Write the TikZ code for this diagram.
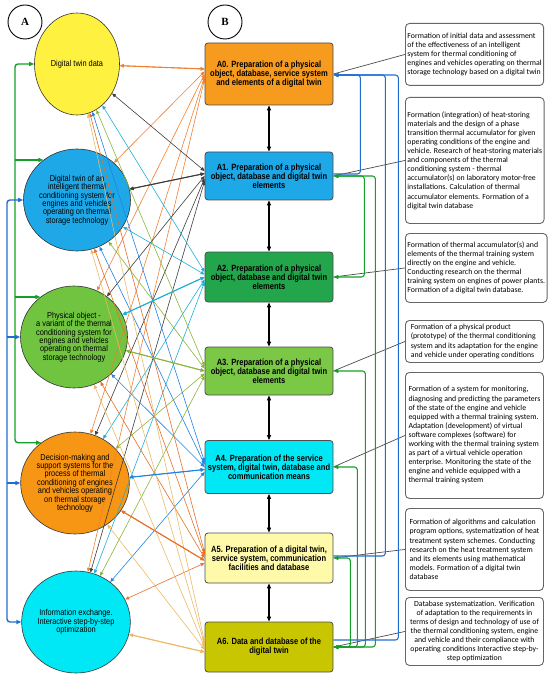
\documentclass[tikz,border=0pt]{standalone}
\usepackage{fontspec}
\setmainfont{Liberation Sans}
\newfontfamily\labfont{Liberation Serif}
\newfontfamily\boxfont[FakeStretch=0.84]{Liberation Sans}
\newfontfamily\ellfont[FakeStretch=0.86]{Liberation Sans}
\newfontfamily\notefont{Carlito}
\usepackage{tikz}
\usetikzlibrary{positioning,arrows.meta,calc,shapes.geometric}

% fills
\definecolor{eYellow}{RGB}{255,241,64}
\definecolor{eBlue}{RGB}{30,168,232}
\definecolor{eGreen}{RGB}{112,196,64}
\definecolor{eOrange}{RGB}{247,150,20}
\definecolor{eCyan}{RGB}{0,232,245}
\definecolor{sOrange}{RGB}{247,155,30}
\definecolor{sBlue}{RGB}{30,168,232}
\definecolor{sGreen}{RGB}{34,165,75}
\definecolor{sLime}{RGB}{122,200,70}
\definecolor{sCyan}{RGB}{0,232,245}
\definecolor{sPale}{RGB}{255,250,170}
\definecolor{sOlive}{RGB}{200,198,0}
% link colours
\definecolor{lnZero}{RGB}{240,128,50}
\definecolor{lnOne}{RGB}{60,60,60}
\definecolor{lnTwo}{RGB}{30,175,215}
\definecolor{lnThree}{RGB}{140,180,60}
\definecolor{lnFour}{RGB}{30,130,230}
\definecolor{lnFive}{RGB}{230,110,40}
\definecolor{lnSix}{RGB}{235,185,100}
\definecolor{fbGreen}{RGB}{20,160,40}
\definecolor{fbBlue}{RGB}{30,110,210}

\tikzset{
  lab/.style={circle, draw, line width=0.9pt, minimum size=34pt, inner sep=0pt,
    font=\labfont\bfseries\fontsize{11}{11}\selectfont},
  model/.style={ellipse, draw=black!80, line width=0.6pt, minimum width=85pt,
    minimum height=102pt, inner sep=0pt, align=center,
    font=\ellfont\fontsize{8.6}{8.4}\selectfont},
  stage/.style={rectangle, rounded corners=3pt, draw=black!70, line width=0.8pt,
    minimum width=128pt, inner sep=1pt, align=center,
    font=\boxfont\bfseries\fontsize{9}{8.8}\selectfont},
  note/.style={rectangle, rounded corners=4pt, draw=black!60, line width=0.9pt,
    fill=white, minimum width=138pt, anchor=north west, inner sep=2pt,
    align=left, font=\notefont\fontsize{7.8}{9.1}\selectfont},
  tip/.style={{Triangle[length=4pt,width=3.4pt]}-{Triangle[length=4pt,width=3.4pt]}},
  link/.style={tip, line width=0.6pt},
  mainlink/.style={tip, line width=1.1pt},
  stagearrow/.style={{Triangle[length=5pt,width=4pt]}-{Triangle[length=5pt,width=4pt]}, line width=1.1pt, black},
  noteline/.style={line width=0.7pt, black!70},
  fbline/.style={line width=1.1pt, rounded corners=3pt},
  trunk/.style={line width=1.4pt, rounded corners=3pt},
}

\begin{document}
\begin{tikzpicture}[x=1pt, y=-1pt]
\useasboundingbox (0,0) rectangle (550,676);
% Column labels
\node[lab] (labA) at (25,22) {A};
\node[lab] (labB) at (225,22) {B};
% Models (column A)
\node[model, fill=eYellow] (E1) at (77,64) {Digital twin data};
\node[model, fill=eBlue] (E2) at (77,200) {Digital twin of an\\intelligent thermal\\conditioning system for\\engines and vehicles\\operating on thermal\\storage technology};
\node[model, fill=eGreen] (E3) at (74,337) {Physical object -\\a variant of the thermal\\conditioning system for\\engines and vehicles\\operating on thermal\\storage technology};
\node[model, fill=eOrange] (E4) at (75,483) {Decision-making and\\support systems for the\\process of thermal\\conditioning of engines\\and vehicles operating\\on thermal storage\\technology};
\node[model, fill=eCyan] (E5) at (76,622) {Information exchange.\\Interactive step-by-step\\optimization};
% Stages (column B)
\node[stage, fill=sOrange, minimum height=62pt] (A0) at (269,74) {A0. Preparation of a physical\\object, database, service system\\and elements of a digital twin};
\node[stage, fill=sBlue, minimum height=48pt] (A1) at (269,176) {A1. Preparation of a physical\\object, database and digital twin\\elements};
\node[stage, fill=sGreen, minimum height=50pt] (A2) at (269,277) {A2. Preparation of a physical\\object, database and digital twin\\elements};
\node[stage, fill=sLime, minimum height=48pt] (A3) at (269,371) {A3. Preparation of a physical\\object, database and digital twin\\elements};
\node[stage, fill=sCyan, minimum height=53pt] (A4) at (269,467) {A4. Preparation of the service\\system, digital twin, database and\\communication means};
\node[stage, fill=sPale, minimum height=50pt] (A5) at (269,558) {A5. Preparation of a digital twin,\\service system, communication\\facilities and database};
\node[stage, fill=sOlive, minimum height=50pt] (A6) at (269,647) {A6. Data and database of the\\digital twin};
% Notes
\node[note, minimum height=62pt] (R0) at (405,23) {Formation of initial data and assessment\\of the effectiveness of an intelligent\\system for thermal conditioning of\\engines and vehicles operating on thermal\\storage technology based on a digital twin};
\node[note, minimum height=126pt] (R1) at (405,97) {Formation (integration) of heat-storing\\materials and the design of a phase\\transition thermal accumulator for given\\operating conditions of the engine and\\vehicle. Research of heat-storing materials\\and components of the thermal\\conditioning system - thermal\\accumulator(s) on laboratory motor-free\\installations. Calculation of thermal\\accumulator elements. Formation of a\\digital twin database};
\node[note, minimum height=69pt] (R2) at (405,233) {Formation of thermal accumulator(s) and\\elements of the thermal training system\\directly on the engine and vehicle.\\Conducting research on the thermal\\training system on engines of power plants.\\Formation of a digital twin database.};
\node[note, minimum height=42pt] (R3) at (405,320) {Formation of a physical product\\(prototype) of the thermal conditioning\\system and its adaptation for the engine\\and vehicle under operating conditions};
\node[note, minimum height=126pt] (R4) at (405,372) {Formation of a system for monitoring,\\diagnosing and predicting the parameters\\of the state of the engine and vehicle\\equipped with a thermal training system.\\Adaptation (development) of virtual\\software complexes (software) for\\working with the thermal training system\\as part of a virtual vehicle operation\\enterprise. Monitoring the state of the\\engine and vehicle equipped with a\\thermal training system};
\node[note, minimum height=82pt] (R5) at (405,508) {Formation of algorithms and calculation\\program options, systematization of heat\\treatment system schemes. Conducting\\research on the heat treatment system\\and its elements using mathematical\\models. Formation of a digital twin\\database};
\node[note, minimum height=68pt, align=center] (R6) at (405,597) {Database systematization. Verification\\of adaptation to the requirements in\\terms of design and technology of use of\\the thermal conditioning system, engine\\and vehicle and their compliance with\\operating conditions Interactive step-by-\\step optimization};
% Every model linked to every stage (ends spread a little on the stage side)
\foreach \k/\c in {0/lnZero,1/lnOne,2/lnTwo,3/lnThree,4/lnFour,5/lnFive,6/lnSix} {
  \foreach \j in {1,...,5} {
    \pgfmathsetmacro{\dy}{(3-\j)*2.5}
    \draw[link, \c] (E\j) -- ([yshift=\dy pt]A\k.west);
  }
}
% main correspondences, drawn heavier
\foreach \j/\k/\c in {1/0/lnZero, 2/1/lnOne, 3/2/lnTwo, 3/3/lnThree, 4/4/lnFour, 4/5/lnFive, 5/6/lnSix} {
  \pgfmathsetmacro{\dy}{(3-\j)*2.5}
  \draw[mainlink, \c] (E\j) -- ([yshift=\dy pt]A\k.west);
}
% Stage sequence
\foreach \a/\b in {A0/A1, A1/A2, A2/A3, A3/A4, A4/A5, A5/A6} {
  \draw[stagearrow] (\a.south) -- (\b.north);
}
% Stage to note
\foreach \k in {0,...,6} {
  \draw[noteline] (A\k.east) -- (R\k.west);
}
% Feedback to A0 (blue)
\draw[fbline, fbBlue, -{Triangle[length=5pt,width=4pt]}] ([yshift=2pt]A1.east) -- ++(27,0) |- ([yshift=-1pt]A0.east);
\draw[fbline, fbBlue, -{Triangle[length=5pt,width=4pt]}] ([yshift=2pt]A5.east) -- ++(52,0) |- ([yshift=-1pt]A0.east);
\draw[fbline, fbBlue, -{Triangle[length=5pt,width=4pt]}] ([yshift=7pt]A6.east) -- ++(65,0) |- ([yshift=-1pt]A0.east);
% Feedback from A6 (green)
\foreach \k/\dx in {1/42, 3/32, 4/24, 5/17} {
  \draw[fbline, fbGreen, {Triangle[length=5pt,width=4pt]}-{Triangle[length=5pt,width=4pt]}] (A6.east) -| ($(A\k.east)+(\dx,0)$) -- (A\k.east);
}
\draw[fbline, fbGreen, {Triangle[length=5pt,width=4pt]}-{Triangle[length=5pt,width=4pt]}] (A1.east) -- ++(31,0) |- (A2.east);
% Left trunks
\coordinate (gx) at (15,0);
\coordinate (bx) at (7,0);
\draw[trunk, fbGreen, {Triangle[length=5pt,width=4pt]}-{Triangle[length=5pt,width=4pt]}] (E1.west) -| (gx |- E4.130) -- (E4.130);
\foreach \e in {E2, E3} {
  \draw[trunk, fbGreen, -{Triangle[length=5pt,width=4pt]}] (gx |- \e.130) -- (\e.130);
}
\draw[trunk, fbBlue, {Triangle[length=5pt,width=4pt]}-{Triangle[length=5pt,width=4pt]}] (E2.west) -| (bx |- E5.west) -- (E5.west);
\foreach \e in {E3, E4} {
  \draw[trunk, fbBlue, -{Triangle[length=5pt,width=4pt]}] (bx |- \e.west) -- (\e.west);
}
\end{tikzpicture}
\end{document}
